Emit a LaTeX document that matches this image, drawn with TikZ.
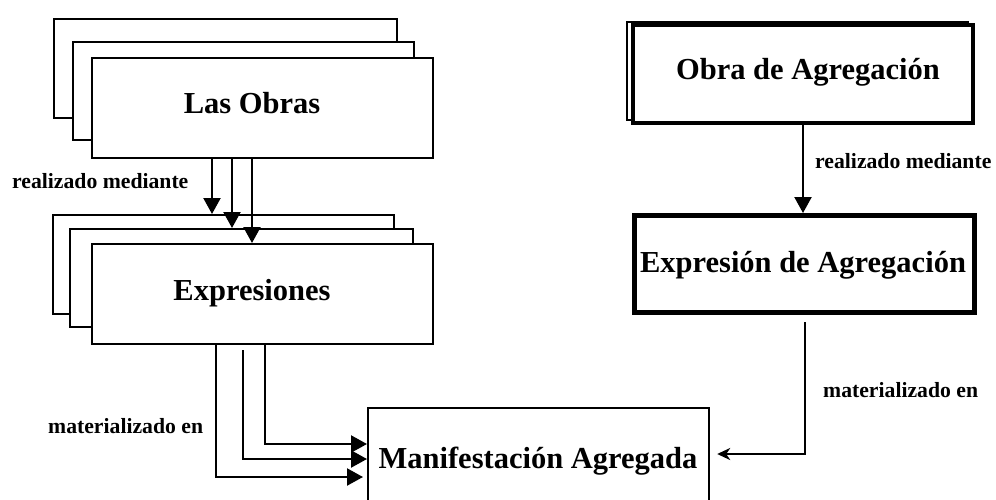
\documentclass[tikz,border=0pt]{standalone}
\usepackage{fontspec}
\setmainfont{Liberation Serif}
\usetikzlibrary{arrows.meta,calc}
\begin{document}
\begin{tikzpicture}[x=1pt,y=-1pt,
  box/.style={draw,line width=2.2pt,fill=white,inner sep=0pt,anchor=north west},
  thickbox/.style={box,line width=4pt},
  title/.style={font=\fontsize{30.5}{36}\selectfont\bfseries,inner sep=0pt,anchor=base},
  lab/.style={font=\fontsize{21.7}{26}\selectfont\bfseries,inner sep=0pt,anchor=base west},
  arr/.style={line width=2.2pt,-{Triangle[length=16pt,width=17pt]}},
  arrb/.style={line width=2.2pt,-{Stealth[length=13pt,width=12pt,inset=4pt]}}]
\useasboundingbox (0,0) rectangle (996,499);
\clip (0,0) rectangle (996,499);
% Las Obras stack
\node[box,minimum width=343pt,minimum height=99pt] (o1) at (53,18) {};
\node[box,minimum width=341pt,minimum height=98pt] (o2) at (72,41) {};
\node[box,minimum width=341pt,minimum height=100pt] (o3) at (91,57) {};
\node[title] (to) at (252,113) {Las Obras};
% Expresiones stack
\node[box,minimum width=341pt,minimum height=99pt] (e1) at (52,214) {};
\node[box,minimum width=343pt,minimum height=98pt] (e2) at (69,228) {};
\node[box,minimum width=341pt,minimum height=100pt] (e3) at (91,243) {};
\node[title] (te) at (252,300) {Expresiones};
% Manifestacion
\node[box,minimum width=341pt,minimum height=115pt] (m) at (367,407) {};
\node[title] (tm) at (538,468) {Manifestación Agregada};
% Obra de Agregacion
\draw[line width=1.3pt] (627,22) rectangle (968,120);
\node[thickbox,minimum width=340pt,minimum height=98pt] (oa) at (631,23) {};
\node[title] (toa) at (808,79) {Obra de Agregación};
% Expresion de Agregacion
\node[box,line width=5pt,minimum width=340pt,minimum height=97pt] (ea) at (632,213) {};
\node[title] (tea) at (803,272) {Expresión de Agregación};
% labels
\node[lab] (l1) at (12,188) {realizado mediante};
\node[lab] (l2) at (815,168) {realizado mediante};
\node[lab] (l3) at (48,433) {materializado en};
\node[lab] (l4) at (823,397) {materializado en};
% arrows Obras -> Expresiones
\draw[arr] (212,0 |- o3.south) -- (212,0 |- e1.north);
\draw[arr] (232,0 |- o3.south) -- (232,0 |- e2.north);
\draw[arr] (252,0 |- o3.south) -- (252,0 |- e3.north);
% arrows Expresiones -> Manifestacion
\draw[arr,shorten >=4pt] (216,0 |- e3.south) -- (216,477) -- (m.west |- 0,477);
\draw[arr,shorten <=5pt] (243,0 |- e3.south) -- (243,459) -- (m.west |- 0,459);
\draw[arr] (265,0 |- e3.south) -- (265,444) -- (m.west |- 0,444);
% right arrows
\draw[arr] (oa.south) -- (oa.south |- ea.north);
\draw[arrb,shorten <=7pt,shorten >=7pt] (805,0 |- ea.south) -- (805,454) -- (m.east |- 0,454);
\end{tikzpicture}
\end{document}
